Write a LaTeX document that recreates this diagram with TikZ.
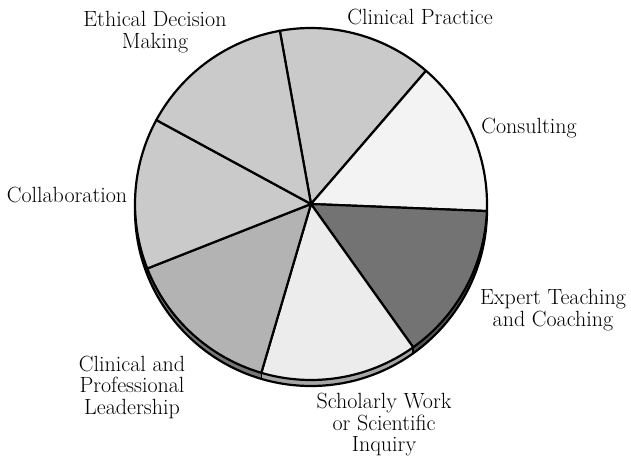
\documentclass[tikz,border=0pt]{standalone}
% face colours of the pie
\definecolor{faceA}{HTML}{CACACA}
\definecolor{faceB}{HTML}{F3F3F3}
\definecolor{faceC}{HTML}{737373}
\definecolor{faceD}{HTML}{ECECEC}
\definecolor{faceE}{HTML}{B3B3B3}
% side (thickness) colours
\definecolor{sideB}{HTML}{B8B8B8}
\definecolor{sideC}{HTML}{555555}
\definecolor{sideD}{HTML}{A6A6A6}
\definecolor{sideE}{HTML}{777777}
\definecolor{sideF}{HTML}{8A8A8A}
\begin{document}
\begin{tikzpicture}[x=1pt,y=1pt,
  lbl/.style={align=center,font=\fontsize{22}{21.5}\selectfont,inner sep=0pt},
  rim/.style={line width=2.2pt,line join=round}]
\useasboundingbox (0,0) rectangle (631,459);
\coordinate (C) at (311,255);
\begin{scope}[shift={(C)}]
  % side band of the disc
  \foreach \a/\b/\col in {-2.3/0/sideB, -54.5/-2.3/sideC, -106.4/-54.5/sideD,
                          -158.5/-106.4/sideE, -180/-158.5/sideF}
    \fill[\col] (\a:176) arc[start angle=\a,end angle=\b,radius=176]
      -- ++(0,-6) arc[start angle=\b,end angle=\a,radius=176] -- cycle;
  \draw[rim] (-176,-6) arc[start angle=180,end angle=360,radius=176];
  \foreach \a in {-54.5,-106.4,-158.5}
    \draw[line width=1.5pt] (\a:176) -- ++(0,-6);
  % top face slices
  \foreach \a/\b/\col in {49.2/100.2/faceA, -2.3/49.2/faceB, -54.5/-2.3/faceC,
                          -106.4/-54.5/faceD, -158.5/-106.4/faceE,
                          -208.5/-158.5/faceA, 100.2/151.5/faceA}
    \filldraw[fill=\col,rim] (0,0) -- (\a:176)
      arc[start angle=\a,end angle=\b,radius=176] -- cycle;
\end{scope}
% labels
\node[lbl] (ethical) at (155,427) {Ethical Decision\\Making};
\node[lbl] (clinical) at (420,442) {Clinical Practice};
\node[lbl] (consult) at (529,331) {Consulting};
\node[lbl] (collab) at (67,264) {Collaboration};
\node[lbl] (expert) at (553,149) {Expert Teaching\\and Coaching};
\node[lbl] (lead) at (132,72) {Clinical and\\Professional\\Leadership};
\node[lbl] (schol) at (384,34) {Scholarly Work\\or Scientific\\Inquiry};
\end{tikzpicture}
\end{document}
